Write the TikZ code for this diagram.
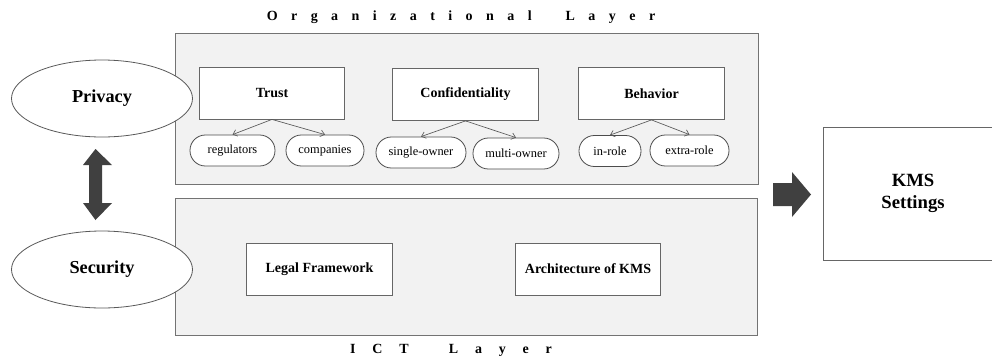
\documentclass[tikz,border=0pt]{standalone}
\usepackage{fontspec}
\setmainfont{Liberation Serif}
\usetikzlibrary{shapes.geometric,arrows.meta}
\begin{document}
\begin{tikzpicture}[x=0.75pt,y=-0.75pt,
  layerbox/.style={draw=black!55, fill=black!5, line width=0.6pt, inner sep=0},
  topic/.style={draw=black!60, fill=white, line width=0.6pt, minimum width=109pt, minimum height=39pt, inner sep=0, font=\fontsize{10.5}{12}\selectfont\bfseries},
  pill/.style={draw=black!70, fill=white, line width=0.6pt, rounded corners=11.5pt, minimum height=23.25pt, inner sep=0, font=\fontsize{9.3}{11}\selectfont},
  oval/.style={ellipse, draw=black!65, fill=white, line width=0.6pt, minimum width=135.75pt, minimum height=57.75pt, inner sep=0, font=\fontsize{13.7}{16}\selectfont\bfseries},
  sub/.style={-{Straight Barb[length=3pt,width=5pt]}, draw=black!65, line width=0.5pt},
  bigarrow/.style={fill=black!75, draw=none},
  ltitle/.style={font=\fontsize{10.5}{12}\selectfont\bfseries, inner sep=0}
]
\useasboundingbox (0,0) rectangle (992,358);
\clip (0,0) rectangle (992,358);

% layers
\node[layerbox, minimum width=437.25pt, minimum height=113.25pt] (org) at (466.5,108.5) {};
\node[layerbox, minimum width=436.5pt, minimum height=102.75pt] (ict) at (466,266.5) {};

% layer titles
\node[ltitle] (orgtitle) at (461,17) {\addfontfeature{LetterSpace=96}Organizational\hspace{12.75pt} Layer};
\node[ltitle] (icttitle) at (451,350) {\addfontfeature{LetterSpace=120}ICT\hspace{15pt} Layer};

% ellipses
\node[oval] (privacy) at (102,98.5) {Privacy};
\node[oval] (security) at (102,269.5) {Security};

% organizational topics
\node[topic] (trust) at (272,93) {Trust};
\node[topic] (conf) at (465.5,94.5) {Confidentiality};
\node[topic] (behav) at (651.5,93.5) {Behavior};

\node[pill, minimum width=63.75pt] (reg) at (232.5,150.5) {regulators};
\node[pill, minimum width=58.5pt] (comp) at (325,150.5) {companies};
\node[pill, minimum width=67.5pt] (single) at (421,152.5) {single-owner};
\node[pill, minimum width=64.5pt] (multi) at (516,153.5) {multi-owner};
\node[pill, minimum width=46.5pt] (inrole) at (610,151) {in-role};
\node[pill, minimum width=59.25pt] (extra) at (689.5,150.5) {extra-role};

\draw[sub] (trust.south) -- (reg.north);
\draw[sub] (trust.south) -- (comp.north);
\draw[sub] (conf.south) -- (single.north);
\draw[sub] (conf.south) -- (multi.north);
\draw[sub] (behav.south) -- (inrole.north);
\draw[sub] (behav.south) -- (extra.north);

% ICT topics
\node[topic] (legal) at (319.5,269) {Legal Framework};
\node[topic] (arch) at (588,269) {Architecture of KMS};

% KMS settings
\node[draw=black!60, fill=white, line width=0.6pt, minimum width=135pt, minimum height=99.75pt, inner sep=0, align=center, font=\fontsize{14}{17}\selectfont\bfseries] (kms) at (913,193.5) {KMS\\Settings};

% big double arrow
\fill[bigarrow] (95.5,149) -- (112,165) -- (102,165) -- (102,203) -- (112,203) -- (95.5,220)
  -- (83,203) -- (89,203) -- (89,165) -- (83,165) -- cycle;
% big right arrow
\fill[bigarrow] (773,183) -- (792,183) -- (792,172) -- (811,194.5) -- (792,217) -- (792,206) -- (773,206) -- cycle;
\end{tikzpicture}
\end{document}
